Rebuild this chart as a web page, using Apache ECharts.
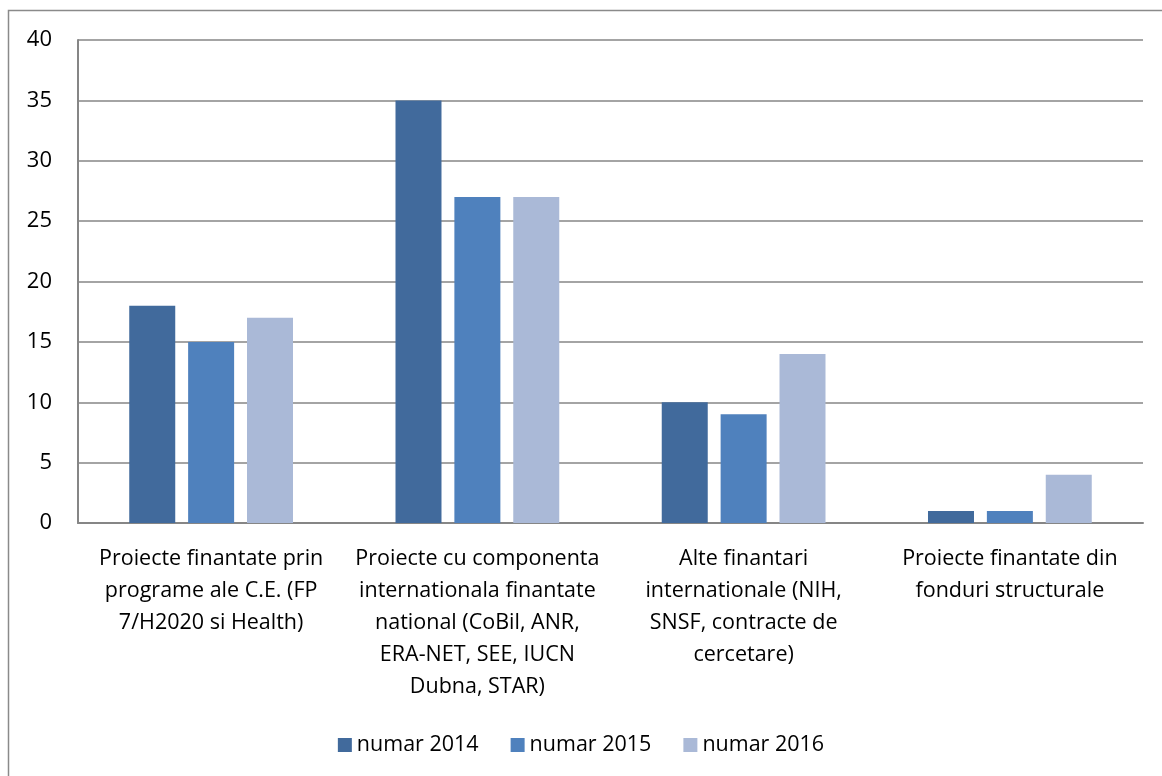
<!DOCTYPE html>
<html>
<head>
<meta charset="utf-8">
<script src="https://cdn.jsdelivr.net/npm/echarts@6/dist/echarts.min.js"></script>
<style>
  html, body { margin: 0; padding: 0; background: #fff; }
  #chart { width: 1162px; height: 776px; }
</style>
</head>
<body>
<div id="chart"></div>
<script>
// categorii (axa x)
const categories = [
  "Proiecte finantate prin\nprograme ale C.E. (FP\n7/H2020 si Health)",
  "Proiecte cu componenta\ninternationala finantate\nnational (CoBil, ANR,\nERA-NET, SEE, IUCN\nDubna, STAR)",
  "Alte finantari\ninternationale (NIH,\nSNSF, contracte de\ncercetare)",
  "Proiecte finantate din\nfonduri structurale"
];
const seriesNames = ["numar 2014", "numar 2015", "numar 2016"];
const numar2014 = [18, 35, 10, 1];
const numar2015 = [15, 27, 9, 1];
const numar2016 = [17, 27, 14, 4];
const colors = ["#416A9C", "#4F81BD", "#AAB9D7"];

const font = "'Open Sans', 'Noto Sans', sans-serif";
const chart = echarts.init(document.getElementById("chart"));

// stil comun pentru bare
const bar = (name, data, color) => ({
  name: name,
  type: "bar",
  barWidth: 46,
  barGap: "28%",
  itemStyle: { color: color },
  data: data
});

chart.setOption({
  animation: false,
  textStyle: { fontFamily: font },
  grid: { left: 78, right: 19, top: 40, bottom: 253 },
  graphic: [
    // chenarul exterior
    {
      type: "rect",
      shape: { x: 8.5, y: 10.5, width: 1170, height: 800 },
      style: { fill: "none", stroke: "#8A8A8A", lineWidth: 1.5 },
      silent: true
    },
    // text taiat sus in dreapta
    {
      type: "text",
      x: 1066,
      y: -18,
      style: {
        text: "2014-2016",
        fill: "#000",
        font: "22px " + font,
        verticalAlign: "top"
      }
    }
  ],
  legend: {
    data: seriesNames,
    bottom: 15,
    left: "center",
    icon: "rect",
    itemWidth: 14,
    itemHeight: 14,
    itemGap: 32,
    textStyle: { fontSize: 21.5, color: "#000", fontFamily: font }
  },
  xAxis: {
    type: "category",
    data: categories,
    axisLine: { lineStyle: { color: "#868686", width: 2 } },
    axisTick: { show: false },
    axisLabel: {
      interval: 0,
      margin: 20,
      fontSize: 21.5,
      lineHeight: 32,
      color: "#000",
      fontFamily: font
    }
  },
  yAxis: {
    type: "value",
    min: 0,
    max: 40,
    interval: 5,
    axisLine: { show: true, lineStyle: { color: "#868686", width: 2 } },
    axisTick: { show: false },
    splitLine: { lineStyle: { color: "#868686", width: 1.5 } },
    axisLabel: { fontSize: 22, color: "#000", margin: 26, fontFamily: font }
  },
  series: [
    bar(seriesNames[0], numar2014, colors[0]),
    bar(seriesNames[1], numar2015, colors[1]),
    bar(seriesNames[2], numar2016, colors[2])
  ]
});
</script>
</body>
</html>
